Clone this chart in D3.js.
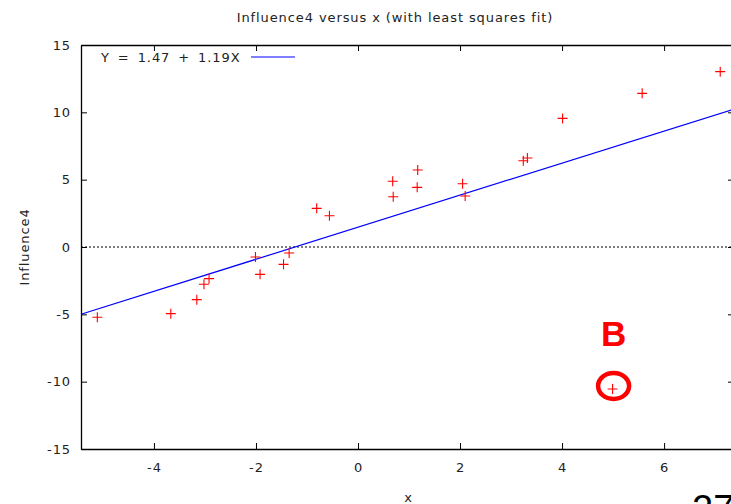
<!DOCTYPE html>
<html>
<head>
<meta charset="utf-8">
<script src="https://cdn.jsdelivr.net/npm/d3@7"></script>
<style>
  body { margin: 0; background: #fff; overflow: hidden; }
  svg { display: block; font-family: "DejaVu Sans", sans-serif; }
  .lbl { letter-spacing: 0.9px; }
</style>
</head>
<body>
<div id="chart"></div>
<script>
// data
const xs = [-5.11, -3.67, -3.16, -3.02, -2.92, -2.01, -1.92, -1.46, -1.35, -0.81, -0.56,
            0.68, 0.69, 1.17, 1.16, 2.05, 2.10, 3.24, 3.32, 4.01, 5.57, 7.10, 4.99];
const ys = [-5.22, -4.95, -3.91, -2.77, -2.35, -0.74, -2.03, -1.29, -0.45, 2.87, 2.32,
            4.88, 3.73, 5.72, 4.43, 4.70, 3.79, 6.41, 6.61, 9.55, 11.41, 13.02, -10.54];
const xTicks = [-4, -2, 0, 2, 4, 6];
const yTicks = [-15, -10, -5, 0, 5, 10, 15];
const intercept = 1.47, slope = 1.19;
const outlier = { x: 4.99, y: -10.54, label: "B" };

const W = 731, H = 504;
const plotL = 81, plotR = 734, plotT = 45, plotB = 449;

const svg = d3.select("#chart").append("svg").attr("width", W).attr("height", H);

const xScale = d3.scaleLinear().domain([-5.43, 7.37]).range([plotL, plotR]);
const yScale = d3.scaleLinear().domain([-15, 15]).range([plotB, plotT]);

// zero line (dotted)
svg.append("line")
  .attr("x1", plotL).attr("x2", plotR)
  .attr("y1", yScale(0)).attr("y2", yScale(0))
  .attr("stroke", "#000").attr("stroke-width", 1)
  .attr("stroke-dasharray", "2,2");

// axes with inward ticks, gnuplot style (plain hyphen for minus)
const tl = 6;
const fmt = d => String(d);
const axB = svg.append("g").attr("transform", "translate(0," + plotB + ")")
  .call(d3.axisBottom(xScale).tickValues(xTicks).tickFormat(fmt).tickSizeInner(-tl).tickSizeOuter(0).tickPadding(14));
const axT = svg.append("g").attr("transform", "translate(0," + plotT + ")")
  .call(d3.axisTop(xScale).tickValues(xTicks).tickSizeInner(-tl).tickSizeOuter(0).tickFormat(""));
const axL = svg.append("g").attr("transform", "translate(" + plotL + ",0)")
  .call(d3.axisLeft(yScale).tickValues(yTicks).tickFormat(fmt).tickSizeInner(-tl).tickSizeOuter(0).tickPadding(14));
const axR = svg.append("g").attr("transform", "translate(" + plotR + ",0)")
  .call(d3.axisRight(yScale).tickValues(yTicks).tickSizeInner(-tl).tickSizeOuter(0).tickFormat(""));

[axB, axT, axL, axR].forEach(function (a) {
  a.selectAll(".domain").attr("stroke", "#000").attr("stroke-width", 1.3);
  a.selectAll(".tick line").attr("stroke", "#000");
  a.selectAll("text").attr("class", "lbl").attr("font-family", "DejaVu Sans, sans-serif")
    .attr("font-size", 13).attr("fill", "#222");
});
axL.selectAll("text").attr("dx", 4);

// least squares line
const line = d3.line().x(d => xScale(d)).y(d => yScale(intercept + slope * d));
svg.append("path")
  .datum(xScale.domain())
  .attr("d", line)
  .attr("fill", "none")
  .attr("stroke", "#0000ff")
  .attr("stroke-width", 1.2);

// points as plus signs
const pts = xs.map((x, i) => ({ x: x, y: ys[i] }));
const s = 5;
svg.append("g").selectAll("path.pt")
  .data(pts).enter().append("path")
  .attr("class", "pt")
  .attr("d", d => {
    const px = xScale(d.x), py = yScale(d.y);
    return "M" + (px - s) + "," + py + "H" + (px + s) + "M" + px + "," + (py - s) + "V" + (py + s);
  })
  .attr("stroke", "#ff0000")
  .attr("stroke-width", 1.1)
  .attr("fill", "none");

// outlier annotation
const ox = xScale(outlier.x), oy = yScale(outlier.y);
svg.append("ellipse")
  .attr("cx", ox + 1).attr("cy", oy - 3)
  .attr("rx", 15.5).attr("ry", 13)
  .attr("fill", "none").attr("stroke", "#ff0000").attr("stroke-width", 4.5);
svg.append("text")
  .attr("x", ox + 1).attr("y", oy - 43)
  .attr("text-anchor", "middle")
  .attr("font-family", "Liberation Sans, Arial, sans-serif")
  .attr("font-weight", "bold").attr("font-size", 35)
  .attr("fill", "#ff0000")
  .text(outlier.label);

// legend
svg.append("text")
  .attr("class", "lbl")
  .attr("x", 101).attr("y", 62)
  .attr("font-size", 13).attr("fill", "#222")
  .style("word-spacing", "3px")
  .text("Y = " + intercept.toFixed(2) + " + " + slope.toFixed(2) + "X");
svg.append("line")
  .attr("x1", 251).attr("x2", 295).attr("y1", 57).attr("y2", 57)
  .attr("stroke", "#0000ff").attr("stroke-width", 1.2);

// title and axis labels
svg.append("text")
  .attr("class", "lbl")
  .attr("x", 395).attr("y", 22)
  .attr("text-anchor", "middle")
  .attr("font-size", 13).attr("fill", "#222")
  .text("Influence4 versus x (with least squares fit)");
svg.append("text")
  .attr("class", "lbl")
  .attr("transform", "translate(29," + yScale(0) + ") rotate(-90)")
  .attr("text-anchor", "middle")
  .attr("font-size", 13).attr("fill", "#222")
  .text("Influence4");
svg.append("text")
  .attr("x", 408).attr("y", 502)
  .attr("text-anchor", "middle")
  .attr("font-size", 13).attr("fill", "#222")
  .text("x");

// slide number, cut at the corner as in the source
svg.append("text")
  .attr("x", 692).attr("y", 522)
  .attr("font-family", "Liberation Sans, Arial, sans-serif")
  .attr("font-size", 38).attr("fill", "#000")
  .text("27");
</script>
</body>
</html>
